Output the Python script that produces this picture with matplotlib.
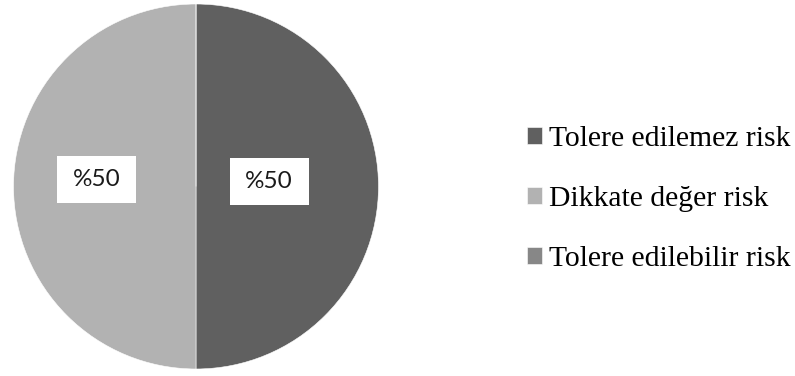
import matplotlib
matplotlib.use("Agg")
import matplotlib.pyplot as plt
from matplotlib.patches import Rectangle

categories = ["Tolere edilemez risk", "Dikkate değer risk", "Tolere edilebilir risk"]
values = [50, 50, 0]
colors = ["#606060", "#b2b2b2", "#878787"]
label_texts = ["%50", "%50"]

fig = plt.figure(figsize=(7.95, 3.76), dpi=100)
W, H = 795, 376
cx, cy, R = 196, 186.5, 182.5
ax = fig.add_axes([(cx - R) / W, (H - cy - R) / H, 2 * R / W, 2 * R / H])
wedges, _ = ax.pie(values, colors=colors, startangle=90, counterclock=False,
                   radius=1, wedgeprops=dict(edgecolor="white", linewidth=0.4))
ax.set_xlim(-1, 1)
ax.set_ylim(-1, 1)
ax.set_aspect("equal")
ax.axis("off")

# label boxes (positions in pie units)
label_pos = [(0.40, 0.030), (-0.545, 0.038)]
bw, bh = 79 / R, 47 / R
for (x, y), t in zip(label_pos, label_texts):
    ax.add_patch(Rectangle((x - bw / 2, y - bh / 2), bw, bh, facecolor="white",
                           edgecolor="none", zorder=3))
    ax.text(x, y, t, ha="center", va="center", fontsize=17.5, family="Lato",
            color="#1a1a1a", zorder=4)

fig.legend(wedges, categories, loc="center left", bbox_to_anchor=(527 / W, 1 - 199 / H),
           frameon=False, borderpad=0, borderaxespad=0,
           prop=dict(family="Liberation Serif", size=21.3),
           handlelength=0.5, handleheight=0.5, handletextpad=0.25,
           labelspacing=1.15)

fig.savefig("out.png", dpi=100)
